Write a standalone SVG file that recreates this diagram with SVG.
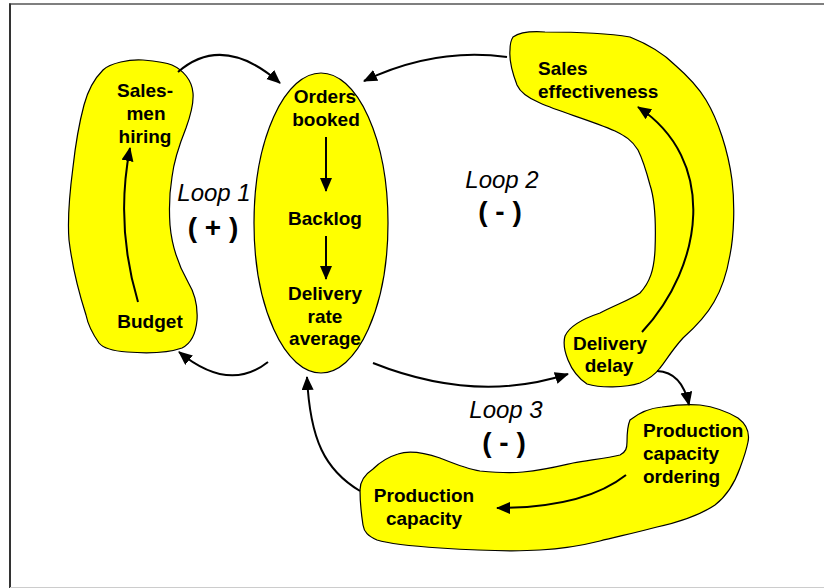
<svg xmlns="http://www.w3.org/2000/svg" width="824" height="588" viewBox="0 0 824 588">
<defs>
<marker id="ah" markerWidth="15" markerHeight="13" refX="13" refY="6" orient="auto" markerUnits="userSpaceOnUse">
<path d="M0,0 L14,6 L0,12 z" fill="#000"/>
</marker>
<style>
.blob{fill:#ffff00;stroke:#000;stroke-width:1.2}
.lbl{font-family:"Liberation Sans",Arial,sans-serif;font-weight:bold;font-size:19px;fill:#000}
.mid{text-anchor:middle}
.loop{font-family:"Liberation Sans",Arial,sans-serif;font-style:italic;font-size:24px;fill:#000;text-anchor:middle}
.sign{font-family:"Liberation Sans",Arial,sans-serif;font-weight:bold;font-size:28px;fill:#000;text-anchor:middle}
.con{fill:none;stroke:#000;stroke-width:2;marker-end:url(#ah)}
</style>
</defs>
<rect width="824" height="588" fill="#fff"/>
<g id="frame">
<line x1="9" y1="4" x2="824" y2="4" stroke="#555" stroke-width="1.5"/>
<line x1="10" y1="3.5" x2="10" y2="588" stroke="#333" stroke-width="2"/>
<line x1="10" y1="587.5" x2="824" y2="587.5" stroke="#ccc" stroke-width="1"/>
</g>
<g id="node-salesmen-budget">
<path class="blob" d="M103,70 C110,63 130,59 143,60 C155,61 165,62 172,65 C183,70 192,80 193,93 C194,105 190,117 186,128 C180,143 174,160 172,177 C169,195 169,210 170,225 C172,248 180,268 188,282 C194,292 198,305 197,320 C196,332 192,343 182,348 C165,354 140,353 127,352 C113,351 103,348 99,343 C92,333 88,325 86,315 C78,290 72,265 69,240 C67,215 70,190 73,167 C76,140 80,120 84,105 C88,90 95,78 103,70 Z"/>
<text class="lbl mid" x="145" y="97">Sales-</text>
<text class="lbl mid" x="146" y="120">men</text>
<text class="lbl mid" x="145" y="143">hiring</text>
<text class="lbl mid" x="150" y="328">Budget</text>
<path class="con" d="M138,302 Q115,225 130,148"/>
</g>
<g id="node-orders">
<ellipse class="blob" cx="321" cy="223" rx="67" ry="150"/>
<text class="lbl mid" x="325" y="103">Orders</text>
<text class="lbl mid" x="326" y="126">booked</text>
<text class="lbl mid" x="325" y="225">Backlog</text>
<text class="lbl mid" x="325" y="300">Delivery</text>
<text class="lbl mid" x="325" y="323">rate</text>
<text class="lbl mid" x="325" y="345">average</text>
<path class="con" d="M326,137 L326,191"/>
<path class="con" d="M326,236 L326,279"/>
</g>
<g id="node-sales-delivery">
<path class="blob" d="M513,37 C520,32 530,31 545,32 C570,32 600,32 630,37 C650,45 665,55 675,65 C690,78 700,90 706,100 C718,120 728,150 732,180 C735,205 734,235 730,255 C726,278 720,292 714,302 C705,318 692,330 683,338 C672,350 665,362 660,368 C654,376 647,380 640,383 C625,388 600,388 587,384 C578,378 572,370 568,360 C564,350 563,343 565,336 C570,325 585,318 600,313 C615,305 630,300 640,293 C650,282 654,270 655,250 C656,225 655,200 650,185 C646,170 642,158 638,150 C632,140 625,136 615,131 C590,120 560,112 540,103 C528,98 520,92 517,85 C512,72 509,60 510,50 C510,44 511,40 513,37 Z"/>
<text class="lbl" x="538" y="75">Sales</text>
<text class="lbl" x="538" y="98">effectiveness</text>
<text class="lbl mid" x="610" y="350">Delivery</text>
<text class="lbl mid" x="609" y="372">delay</text>
<path class="con" d="M642,332 C704,265 718,160 638,107"/>
</g>
<g id="node-production">
<path class="blob" d="M630,420 C640,412 650,408 662,407 C675,405 690,404 700,405 C715,407 728,412 738,418 C746,424 750,432 748,442 C746,452 743,460 740,468 C735,482 728,495 715,505 C700,515 680,522 657,527 C635,533 615,537 600,541 C580,546 560,549 540,550 C510,552 470,550 440,548 C410,546 390,544 377,540 C368,536 364,532 363,525 C361,512 360,500 360,490 C360,482 364,475 373,469 C380,462 388,457 398,454 C410,450 425,453 440,458 C455,464 467,469 480,471 C500,473 515,473 523,472 C545,470 560,466 573,463 C590,460 608,458 620,455 C626,452 627,448 627,442 C627,434 627,427 630,420 Z"/>
<text class="lbl" x="643" y="437">Production</text>
<text class="lbl" x="643" y="460">capacity</text>
<text class="lbl" x="643" y="483">ordering</text>
<text class="lbl mid" x="424" y="502">Production</text>
<text class="lbl mid" x="424" y="525">capacity</text>
<path class="con" d="M626,475 Q584,508 497,508"/>
</g>
<g id="loop-labels">
<text class="loop" x="214" y="201">Loop 1</text>
<text class="sign" x="213" y="237">( + )</text>
<text class="loop" x="502" y="188">Loop 2</text>
<text class="sign" x="500" y="221">( - )</text>
<text class="loop" x="506" y="418">Loop 3</text>
<text class="sign" x="504" y="452">( - )</text>
</g>
<g id="connectors">
<path class="con" d="M178,72 Q223,33 280,83"/>
<path class="con" d="M268,362 Q229,393 179,352"/>
<path class="con" d="M507,57 Q435,47 364,81"/>
<path class="con" d="M373,363 Q476,404 568,374"/>
<path class="con" d="M657,371 Q682,372 689,405"/>
<path class="con" d="M360,491 C325,470 310,440 307,377"/>
</g>
</svg>
